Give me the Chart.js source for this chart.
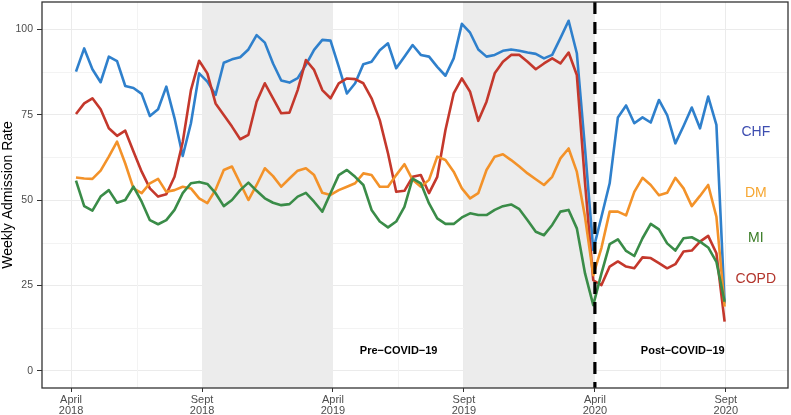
<!DOCTYPE html>
<html>
<head>
<meta charset="utf-8">
<title>Weekly Admission Rate</title>
<script src="https://cdn.jsdelivr.net/npm/chart.js@4.4.1/dist/chart.umd.min.js"></script>
<style>
    html, body { margin: 0; padding: 0; background: #fff; }
    #chart { display: block; }
</style>
</head>
<body>
<canvas id="chart" width="791" height="415"></canvas>
<script>
// weekly rates (one value per week)
const chf = [87.6, 94.4, 88.3, 84.5, 92, 90.7, 83.4, 82.8, 81.1, 74.6, 76.6, 83.2, 74, 62.9, 72.5, 87.1,
    84.7, 80.8, 90.2, 91.2, 91.8, 94.1, 98.3, 96.1, 90, 85, 84.4, 85.7, 89.6, 94, 96.9, 96.7,
    89.1, 81.2, 84.2, 89.8, 90.5, 93.9, 95.9, 88.6, 92, 95.4, 92.5, 92, 89, 86.4, 91.5, 101.6,
    99, 94.1, 92, 92.5, 93.7, 94.1, 93.7, 93.2, 92.8, 91.5, 92.5, 97.4, 102.5, 93, 65, 35.4,
    45.1, 54.9, 74.2, 77.7, 72.5, 74.2, 72.7, 79.3, 74.9, 66.6, 71.7, 77.1, 71, 80.3, 72, 19.7];
const copd = [75.2, 78.3, 79.8, 76.6, 71, 68.8, 70.3, 64.2, 58.3, 53.4, 51, 51.7, 56.8, 67, 82.2, 90.8,
    87.1, 78.3, 74.9, 71.5, 67.8, 69.1, 78.8, 84.2, 79.8, 75.4, 75.6, 82.2, 91, 88.1, 82.2, 79.8,
    84.2, 85.6, 85.4, 84.2, 79.8, 73.4, 63.7, 52.4, 52.7, 56.8, 57.3, 52, 56.8, 70.5, 81.2, 85.6,
    81.7, 73.2, 78.8, 87.1, 90.5, 92.5, 92.5, 90.5, 88.3, 90, 91.5, 90, 93.2, 86.6, 55, 26.5,
    25.1, 30.5, 32, 30.5, 30, 33.2, 33, 31.5, 30, 31.2, 34.9, 35.2, 37.8, 39.5, 34.4, 14.4];
const dm = [56.6, 56.3, 56.2, 58.6, 62.7, 67.1, 60.7, 53.4, 52, 54.9, 56.2, 52.4, 52.9, 53.9, 53.4, 50.5,
    49.1, 53, 58.8, 59.8, 54.9, 50, 54.4, 59.3, 57, 53.9, 56.3, 58.6, 59.3, 57.3, 52.1, 51.5,
    52.9, 53.9, 54.9, 57.8, 57.3, 53.9, 53.9, 57.3, 60.5, 55.9, 53.9, 55.9, 62.7, 61.7, 58.3, 53.4,
    50.5, 52, 58.8, 62.7, 63.4, 61.7, 59.8, 57.8, 56.1, 54.4, 56.8, 62.2, 65.1, 58.3, 45, 28,
    36, 46.6, 46.6, 45.5, 52.4, 56.5, 54.4, 51.4, 52.1, 56.5, 53.4, 48.2, 51.2, 54.4, 45.1, 18.8];
const mi = [55.7, 48.2, 46.9, 51, 52.9, 49.2, 50, 53.9, 49.5, 44.1, 42.9, 44.1, 47.1, 52, 54.9, 55.3,
    54.7, 52, 48.2, 50, 52.9, 55.1, 52.7, 50.5, 49.2, 48.5, 48.8, 51, 52.1, 49.5, 46.6, 52,
    57.3, 58.8, 56.8, 54.4, 47.1, 43.7, 42, 43.7, 48, 56.3, 54.9, 49, 44.6, 43, 43, 44.9,
    46.1, 45.6, 45.6, 47.1, 48.2, 48.7, 47.3, 44.1, 40.7, 39.7, 42.7, 46.6, 47.1, 41.7, 28.5, 19.2,
    28.5, 37.1, 38.5, 35.1, 33.6, 38.8, 43, 41.4, 37.3, 35.2, 38.8, 39.1, 37.8, 36.1, 31.9, 20.2];

const tickLabels = [['April', '2018'], ['Sept', '2018'], ['April', '2019'], ['Sept', '2019'], ['April', '2020'], ['Sept', '2020']];
const yTicks = [0, 25, 50, 75, 100];
const seriesNames = ['CHF', 'COPD', 'DM', 'MI'];
const periodNames = ['Pre\u2212COVID\u221219', 'Post\u2212COVID\u221219'];

// layout of the axis (in week units), kept apart from the data
const firstTick = -0.6;
const tickStep = 15.95;
const tickPos = tickLabels.map((_, k) => firstTick + k * tickStep);

const FONT = "'Liberation Sans', Arial, sans-serif";

const styles = {
    CHF:  { line: '#2f80cc', text: '#3d4db0', y: 70 },
    COPD: { line: '#c4382c', text: '#b3362d', y: 26.8 },
    DM:   { line: '#f39229', text: '#f6a631', y: 52.1 },
    MI:   { line: '#3a8c48', text: '#397c25', y: 38.8 }
};

const values = { CHF: chf, COPD: copd, DM: dm, MI: mi };

function toPoints(arr) {
    return arr.map((v, i) => ({ x: i, y: v }));
}

const overlayPlugin = {
    id: 'overlay',
    beforeDatasetsDraw(chart) {
        const { ctx, chartArea: a, scales: { x, y } } = chart;
        ctx.save();
        // minor grid
        ctx.strokeStyle = '#f3f3f3';
        ctx.lineWidth = 1;
        for (let v = 12.5; v < 108; v += 25) {
            const py = Math.round(y.getPixelForValue(v)) + 0.5;
            ctx.beginPath();
            ctx.moveTo(a.left, py);
            ctx.lineTo(a.right, py);
            ctx.stroke();
        }
        for (let k = 0; k < tickPos.length - 1; k++) {
            const px = Math.round(x.getPixelForValue((tickPos[k] + tickPos[k + 1]) / 2)) + 0.5;
            ctx.beginPath();
            ctx.moveTo(px, a.top);
            ctx.lineTo(px, a.bottom);
            ctx.stroke();
        }
        // shaded Sept–April bands
        ctx.fillStyle = '#ececec';
        [[1, 2], [3, 4]].forEach(([s, e]) => {
            const x0 = x.getPixelForValue(tickPos[s]);
            const x1 = x.getPixelForValue(tickPos[e]);
            ctx.fillRect(x0, a.top, x1 - x0, a.bottom - a.top);
        });
        ctx.restore();
    },
    afterDatasetsDraw(chart) {
        const { ctx, chartArea: a, scales: { x, y } } = chart;
        ctx.save();
        // dashed line at April 2020
        const dx = x.getPixelForValue(tickPos[4]);
        ctx.strokeStyle = '#000';
        ctx.lineWidth = 3.2;
        ctx.setLineDash([12, 8]);
        ctx.beginPath();
        ctx.moveTo(dx, a.top);
        ctx.lineTo(dx, a.bottom);
        ctx.stroke();
        ctx.setLineDash([]);

        // period labels
        ctx.fillStyle = '#000';
        ctx.font = 'bold 11px ' + FONT;
        ctx.textAlign = 'center';
        ctx.textBaseline = 'middle';
        ctx.fillText(periodNames[0], x.getPixelForValue(39.3), y.getPixelForValue(5.9));
        ctx.fillText(periodNames[1], x.getPixelForValue(73.9), y.getPixelForValue(5.9));

        // series labels on the right
        ctx.font = '14px ' + FONT;
        seriesNames.forEach(name => {
            ctx.fillStyle = styles[name].text;
            ctx.fillText(name, x.getPixelForValue(82.8), y.getPixelForValue(styles[name].y));
        });
        ctx.restore();
    },
    afterDraw(chart) {
        const { ctx, chartArea: a } = chart;
        ctx.save();
        ctx.strokeStyle = '#333';
        ctx.lineWidth = 1.3;
        ctx.strokeRect(a.left, a.top, a.right - a.left, a.bottom - a.top);
        ctx.restore();
    }
};

function initChart() {
    const ctx = document.getElementById('chart').getContext('2d');

    // last series drawn on top, as in the original
    const datasets = seriesNames.slice().reverse().map(name => ({
        label: name,
        data: toPoints(values[name]),
        borderColor: styles[name].line,
        borderWidth: 2.6,
        pointRadius: 0,
        tension: 0,
        fill: false,
        borderJoinStyle: 'round',
        borderCapStyle: 'butt'
    }));

    new Chart(ctx, {
        type: 'line',
        data: { datasets },
        options: {
            responsive: false,
            animation: false,
            devicePixelRatio: 1,
            layout: { padding: { top: 2, right: 3, left: 0, bottom: 0 } },
            plugins: {
                legend: { display: false },
                tooltip: { enabled: false }
            },
            scales: {
                x: {
                    type: 'linear',
                    min: -4.14,
                    max: 86.72,
                    border: { display: false },
                    grid: { color: '#ebebeb', lineWidth: 1, tickColor: '#333', tickLength: 4 },
                    afterBuildTicks: scale => { scale.ticks = tickPos.map(v => ({ value: v })); },
                    afterFit: scale => {
                        scale.height = 27;
                        scale.paddingLeft = 0;
                        scale.paddingRight = 0;
                    },
                    ticks: {
                        autoSkip: false,
                        maxRotation: 0,
                        padding: 3,
                        color: '#4d4d4d',
                        font: { family: FONT, size: 11, lineHeight: 0.95 },
                        callback: (v, i) => tickLabels[i]
                    }
                },
                y: {
                    min: -5.06,
                    max: 108,
                    border: { display: false },
                    grid: { color: '#ebebeb', lineWidth: 1, tickColor: '#333', tickLength: 5 },
                    afterBuildTicks: scale => { scale.ticks = yTicks.map(v => ({ value: v })); },
                    afterFit: scale => {
                        scale.width = 42;
                        scale.paddingTop = 0;
                        scale.paddingBottom = 0;
                    },
                    title: {
                        display: true,
                        text: 'Weekly Admission Rate',
                        color: '#000',
                        font: { family: FONT, size: 14 },
                        padding: { top: 0, bottom: 0 }
                    },
                    ticks: {
                        padding: 4,
                        color: '#4d4d4d',
                        font: { family: FONT, size: 10.5 },
                        callback: v => String(v)
                    }
                }
            }
        },
        plugins: [overlayPlugin]
    });
}

document.addEventListener('DOMContentLoaded', initChart);
</script>
</body>
</html>
